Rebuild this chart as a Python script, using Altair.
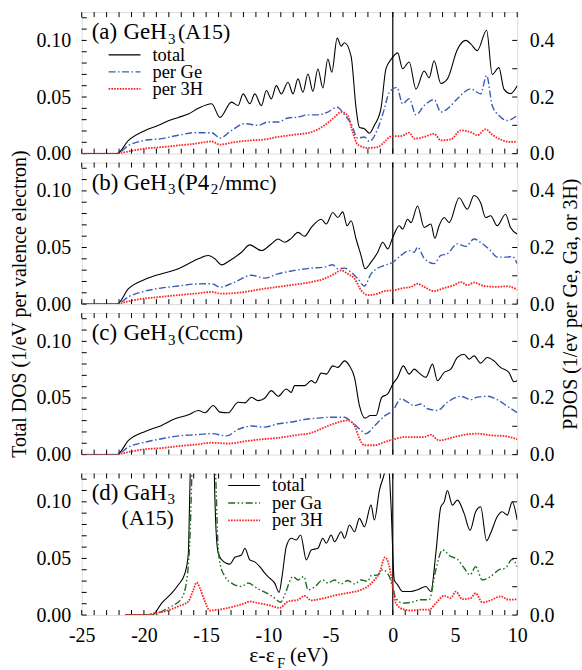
import altair as alt
import pandas as pd

# ---------------- data ----------------
# Panel (a) GeH3 (A15)
a_tot_x = [-25, -22.17, -21.24, -19.90, -18.83, -18.03, -17.23, -16.43, -15.63, -14.56, -13.89, -12.96, -12.43, -12.03, -11.49, -11.09, -10.56, -10.16, -9.76, -9.36, -8.96, -8.42, -8.02, -7.62, -7.22, -6.82, -6.42, -6.02, -5.62, -5.22, -4.90, -4.47, -4.15, -3.88, -3.35, -2.95, -2.68, -2.28, -1.88, -1.48, -0.95, -0.55, -0.15, 0.39, 0.79, 1.32, 1.86, 2.52, 2.92, 3.32, 3.86, 4.39, 5.19, 5.86, 6.26, 6.79, 7.54, 7.99, 8.53, 8.93, 9.46, 10.0]
a_tot_y = [0, 0, 0.0117, 0.0205, 0.025, 0.029, 0.032, 0.035, 0.040, 0.044, 0.032, 0.0455, 0.0425, 0.0528, 0.044, 0.0528, 0.0425, 0.0557, 0.0484, 0.0601, 0.0528, 0.0631, 0.0528, 0.066, 0.0543, 0.0704, 0.055, 0.0748, 0.058, 0.0836, 0.072, 0.102, 0.095, 0.098, 0.086, 0.040, 0.023, 0.022, 0.018, 0.025, 0.040, 0.075, 0.083, 0.089, 0.075, 0.081, 0.057, 0.073, 0.067, 0.082, 0.062, 0.066, 0.092, 0.100, 0.097, 0.091, 0.109, 0.070, 0.076, 0.057, 0.053, 0.060]
a_ge_x = [-25, -22.17, -21.24, -19.90, -18.57, -17.23, -15.90, -14.56, -13.89, -12.96, -11.89, -10.82, -10.02, -9.22, -8.42, -7.62, -6.82, -6.02, -5.22, -4.47, -3.88, -3.35, -2.82, -2.28, -1.88, -1.21, -0.68, -0.28, 0.33, 0.79, 1.32, 1.86, 2.52, 3.32, 3.86, 4.39, 5.19, 6.26, 7.06, 7.54, 7.99, 8.53, 9.20, 10.0]
a_ge_y = [0, 0, 0.029, 0.047, 0.053, 0.065, 0.074, 0.074, 0.055, 0.082, 0.106, 0.100, 0.112, 0.112, 0.126, 0.129, 0.137, 0.137, 0.147, 0.164, 0.137, 0.106, 0.055, 0.059, 0.043, 0.088, 0.158, 0.217, 0.234, 0.176, 0.194, 0.137, 0.170, 0.191, 0.147, 0.158, 0.194, 0.229, 0.211, 0.276, 0.170, 0.135, 0.117, 0.135]
a_h_x = [-25, -22.17, -21.24, -19.90, -18.57, -17.23, -15.90, -14.56, -13.89, -12.69, -11.36, -10.29, -9.22, -7.89, -6.55, -5.49, -4.68, -4.15, -3.62, -3.22, -2.82, -2.02, -1.21, -0.68, -0.15, 0.65, 1.32, 1.72, 2.52, 3.32, 3.86, 4.66, 5.46, 6.26, 6.79, 7.46, 7.99, 8.66, 9.46, 10.0]
a_h_y = [0, 0, 0.008, 0.018, 0.023, 0.029, 0.035, 0.043, 0.032, 0.041, 0.047, 0.050, 0.059, 0.067, 0.076, 0.100, 0.129, 0.147, 0.135, 0.076, 0.032, 0.020, 0.023, 0.041, 0.061, 0.062, 0.074, 0.053, 0.059, 0.070, 0.047, 0.050, 0.082, 0.076, 0.065, 0.086, 0.067, 0.050, 0.041, 0.043]

# Panel (b) GeH3 (P4_2/mmc)
b_tot_x = [-25, -22.17, -21.24, -19.90, -18.57, -17.23, -16.43, -15.63, -14.83, -14.29, -13.76, -13.09, -12.16, -11.49, -10.56, -9.76, -9.22, -8.69, -8.16, -7.62, -7.09, -6.55, -5.75, -5.35, -4.82, -4.42, -4.02, -3.67, -3.35, -2.95, -2.55, -2.23, -1.75, -1.21, -0.81, -0.41, 0.0, 0.52, 0.79, 1.19, 1.46, 1.99, 2.52, 3.06, 3.38, 3.72, 4.13, 4.53, 5.33, 5.99, 6.53, 7.06, 7.46, 7.86, 8.39, 9.06, 9.46, 10.0]
b_tot_y = [0, 0, 0.0137, 0.0219, 0.0269, 0.0312, 0.0356, 0.040, 0.0429, 0.040, 0.0347, 0.0385, 0.0458, 0.0523, 0.0473, 0.0531, 0.0575, 0.0546, 0.0581, 0.0634, 0.0599, 0.0677, 0.075, 0.0707, 0.0809, 0.0765, 0.0815, 0.0692, 0.0736, 0.0575, 0.0429, 0.0312, 0.0371, 0.0458, 0.0546, 0.0488, 0.059, 0.0692, 0.0663, 0.075, 0.072, 0.0867, 0.0677, 0.0707, 0.0581, 0.0692, 0.0765, 0.072, 0.094, 0.0838, 0.096, 0.0896, 0.0765, 0.078, 0.0692, 0.0794, 0.0677, 0.062]
b_ge_x = [-25, -22.17, -21.24, -19.90, -18.57, -17.23, -15.90, -14.56, -13.89, -12.69, -11.36, -10.29, -9.22, -7.89, -6.55, -5.49, -4.82, -4.42, -3.88, -3.35, -2.82, -2.28, -1.75, -1.21, -0.68, 0.0, 0.65, 1.32, 1.72, 1.99, 2.52, 3.32, 3.86, 4.39, 5.19, 5.86, 6.53, 7.06, 7.86, 8.39, 9.20, 9.60, 10.0]
b_ge_y = [0, 0, 0.026, 0.046, 0.057, 0.064, 0.071, 0.072, 0.060, 0.078, 0.102, 0.092, 0.107, 0.119, 0.127, 0.131, 0.139, 0.125, 0.127, 0.113, 0.090, 0.064, 0.107, 0.127, 0.137, 0.148, 0.172, 0.189, 0.183, 0.201, 0.162, 0.143, 0.172, 0.178, 0.213, 0.204, 0.230, 0.218, 0.189, 0.166, 0.166, 0.169, 0.143]
b_h_x = [-25, -22.17, -21.24, -19.90, -18.57, -17.23, -15.90, -14.56, -13.76, -11.89, -10.56, -9.22, -7.89, -6.55, -5.49, -4.68, -4.15, -3.62, -3.08, -2.55, -2.02, -1.21, -0.68, 0.0, 0.92, 1.46, 1.99, 2.52, 3.32, 4.13, 4.93, 5.46, 5.99, 6.53, 7.33, 8.39, 9.20, 10.0]
b_h_y = [0, 0, 0.0105, 0.020, 0.026, 0.032, 0.037, 0.043, 0.037, 0.043, 0.053, 0.061, 0.069, 0.078, 0.090, 0.107, 0.119, 0.107, 0.090, 0.049, 0.032, 0.037, 0.046, 0.049, 0.057, 0.061, 0.072, 0.061, 0.046, 0.057, 0.067, 0.078, 0.067, 0.076, 0.064, 0.061, 0.063, 0.051]

# Panel (c) GeH3 (Cccm)
c_tot_x = [-25, -22.17, -21.24, -19.90, -18.57, -17.50, -16.43, -15.63, -15.10, -14.43, -13.89, -13.23, -12.43, -11.89, -11.36, -10.82, -10.29, -9.76, -9.22, -8.56, -8.16, -7.89, -7.09, -6.55, -6.23, -5.75, -5.35, -4.82, -4.42, -3.88, -3.48, -3.08, -2.68, -2.23, -1.80, -1.35, -0.89, -0.41, 0.0, 0.39, 0.84, 1.32, 1.72, 2.12, 2.66, 3.19, 3.59, 4.13, 4.66, 5.19, 5.73, 6.13, 6.53, 7.06, 7.59, 8.13, 8.66, 9.33, 9.73, 10.0]
c_tot_y = [0, 0, 0.0126, 0.0205, 0.0258, 0.0316, 0.0351, 0.039, 0.0369, 0.0433, 0.0375, 0.0369, 0.0462, 0.0457, 0.0506, 0.0477, 0.0498, 0.0565, 0.0515, 0.058, 0.055, 0.0609, 0.0609, 0.0653, 0.0632, 0.072, 0.0711, 0.0784, 0.077, 0.0828, 0.0784, 0.0682, 0.0433, 0.0322, 0.0345, 0.0345, 0.0506, 0.0536, 0.0623, 0.0682, 0.0784, 0.0711, 0.0755, 0.072, 0.0682, 0.0799, 0.0653, 0.0726, 0.0755, 0.0858, 0.0887, 0.0843, 0.0872, 0.0808, 0.0858, 0.0828, 0.077, 0.0726, 0.0644, 0.0653]
c_ge_x = [-25, -22.17, -21.24, -19.90, -18.57, -17.23, -15.90, -14.56, -13.36, -12.43, -11.36, -10.29, -9.22, -8.16, -7.09, -6.02, -4.95, -3.88, -3.35, -2.68, -2.15, -1.48, -0.68, 0.0, 0.65, 1.19, 1.72, 2.26, 2.79, 3.59, 4.39, 5.46, 6.26, 6.79, 7.59, 8.39, 9.20, 10.0]
c_ge_y = [0, 0, 0.027, 0.044, 0.056, 0.066, 0.070, 0.074, 0.066, 0.089, 0.101, 0.097, 0.109, 0.115, 0.124, 0.129, 0.132, 0.132, 0.117, 0.091, 0.074, 0.101, 0.136, 0.156, 0.197, 0.185, 0.173, 0.179, 0.162, 0.156, 0.185, 0.206, 0.194, 0.203, 0.206, 0.194, 0.171, 0.148]
c_h_x = [-25, -22.17, -21.24, -19.90, -18.57, -17.23, -15.90, -14.56, -13.23, -11.89, -10.56, -9.22, -7.89, -6.55, -5.22, -4.15, -3.62, -3.08, -2.68, -2.28, -1.48, -0.68, 0.0, 0.92, 1.72, 2.52, 3.06, 3.72, 4.66, 5.73, 6.79, 7.86, 8.93, 10.0]
c_h_y = [0, 0, 0.009, 0.019, 0.023, 0.030, 0.035, 0.042, 0.039, 0.047, 0.054, 0.059, 0.068, 0.077, 0.101, 0.117, 0.121, 0.103, 0.056, 0.033, 0.033, 0.044, 0.053, 0.062, 0.062, 0.062, 0.070, 0.050, 0.059, 0.070, 0.074, 0.068, 0.066, 0.054]

# Panel (d) GaH3 (A15)
d_tot_x = [-21.5, -19.34, -18.57, -17.77, -17.23, -16.70, -16.43, -16.35, -16.27, -16.11, -15.30, -14.48, -14.35, -14.24, -14.03, -13.76, -13.09, -12.69, -12.16, -11.89, -11.49, -11.09, -10.69, -10.29, -9.89, -9.49, -9.14, -8.90, -8.56, -8.16, -7.76, -7.41, -6.95, -6.55, -6.02, -5.62, -5.35, -4.95, -4.68, -4.15, -3.88, -3.48, -3.08, -2.68, -2.28, -1.75, -1.48, -1.08, -0.68, -0.41, -0.15, 0.12, 0.39, 0.79, 1.46, 1.99, 2.66, 3.06, 3.46, 3.86, 4.13, 4.39, 4.79, 5.19, 5.73, 6.21, 6.66, 7.06, 7.54, 7.86, 8.39, 8.79, 9.20, 9.60, 10.0]
d_tot_y = [0, 0, 0.0106, 0.0194, 0.0267, 0.037, 0.0546, 0.09, 0.13, 0.25, 0.35, 0.25, 0.13, 0.084, 0.0546, 0.049, 0.045, 0.051, 0.053, 0.059, 0.0487, 0.047, 0.0428, 0.037, 0.0326, 0.0282, 0.020, 0.034, 0.0604, 0.0678, 0.0663, 0.0707, 0.0487, 0.0575, 0.059, 0.0678, 0.0634, 0.0707, 0.0648, 0.0736, 0.0678, 0.0795, 0.0736, 0.0854, 0.078, 0.0971, 0.0839, 0.110, 0.125, 0.140, 0.0986, 0.031, 0.0267, 0.0208, 0.0208, 0.0223, 0.0252, 0.0208, 0.0546, 0.0956, 0.100, 0.110, 0.0971, 0.1015, 0.0898, 0.075, 0.0912, 0.0956, 0.0657, 0.0722, 0.0868, 0.0912, 0.0883, 0.100, 0.0839]
d_ga_x = [-21.5, -19.23, -18.57, -17.77, -16.96, -16.56, -16.30, -16.08, -15.30, -14.43, -14.24, -14.08, -13.89, -13.49, -12.96, -12.16, -11.63, -10.82, -10.02, -9.49, -9.01, -8.69, -8.02, -7.62, -7.14, -6.82, -6.29, -5.62, -5.22, -4.68, -4.15, -3.62, -3.08, -2.55, -2.02, -1.75, -1.21, -0.81, -0.28, 0.0, 0.25, 0.79, 1.46, 2.26, 2.92, 3.46, 3.99, 4.66, 5.19, 5.73, 6.21, 6.66, 7.19, 7.86, 8.53, 9.06, 9.60, 10.0]
d_ga_y = [0, 0, 0.013, 0.031, 0.060, 0.124, 0.277, 0.60, 1.20, 0.60, 0.50, 0.277, 0.183, 0.136, 0.113, 0.101, 0.113, 0.092, 0.075, 0.060, 0.045, 0.072, 0.136, 0.124, 0.136, 0.089, 0.099, 0.124, 0.113, 0.124, 0.110, 0.122, 0.110, 0.124, 0.119, 0.139, 0.142, 0.160, 0.136, 0.095, 0.060, 0.042, 0.045, 0.054, 0.054, 0.160, 0.230, 0.207, 0.197, 0.166, 0.142, 0.171, 0.124, 0.136, 0.160, 0.166, 0.197, 0.171]
d_h_x = [-21.5, -19.90, -19.10, -18.30, -17.23, -16.43, -16.03, -15.76, -15.50, -15.10, -14.70, -14.03, -12.96, -11.89, -11.49, -10.82, -10.02, -9.09, -8.42, -7.62, -7.09, -6.55, -5.49, -4.42, -3.35, -2.55, -2.02, -1.48, -1.08, -0.63, -0.28, 0.0, 0.25, 0.79, 1.46, 2.26, 2.92, 3.46, 4.13, 4.66, 5.06, 5.59, 6.26, 6.66, 7.19, 7.86, 8.66, 9.33, 10.0]
d_h_y = [0, 0, 0.007, 0.013, 0.031, 0.048, 0.089, 0.115, 0.095, 0.048, 0.016, 0.019, 0.028, 0.042, 0.048, 0.042, 0.036, 0.025, 0.048, 0.054, 0.068, 0.052, 0.060, 0.072, 0.080, 0.089, 0.101, 0.124, 0.148, 0.204, 0.171, 0.101, 0.042, 0.021, 0.016, 0.019, 0.019, 0.042, 0.068, 0.060, 0.083, 0.056, 0.060, 0.077, 0.045, 0.052, 0.066, 0.054, 0.056]

# axis ticks and labels
x_tick_vals = list(range(-25, 11))
x_label_vals = [-25, -20, -15, -10, -5, 0, 5, 10]
yl_tick_vals = [0.0, 0.01, 0.02, 0.03, 0.04, 0.05, 0.06, 0.07, 0.08, 0.09, 0.10, 0.11, 0.12]
yl_label_vals = [0.0, 0.05, 0.10]
yr_tick_vals = [0.0, 0.1, 0.2, 0.3, 0.4]
yr_label_vals = [0.0, 0.2, 0.4]

# ---------------- styling ----------------
FONT = "Liberation Serif"
W, H = 437, 142
BLUE = "#3a5bb8"
RED = "#ff2020"
GREEN = "#1f6a1f"
DASH_GE = [7, 2.5, 1.5, 2.5]
DASH_GA = [7, 2.5, 1.5, 2.5, 1.5, 2.5]
DASH_H = [1.6, 1.2]

XS = alt.Scale(domain=[-25, 10], nice=False, zero=False)
YL = alt.Scale(domain=[0, 0.125], nice=False, zero=False)
YR = alt.Scale(domain=[0, 0.5], nice=False, zero=False)


def frame(xv, yv):
    return pd.DataFrame(list(zip(xv, yv)), columns=["e", "d"])


def txt(s, x, y, size=20, align="left", baseline="alphabetic", angle=0):
    return alt.Chart(alt.Data(values=[{}])).mark_text(
        text=s, font=FONT, fontSize=size, align=align, baseline=baseline,
        angle=angle, color="black"
    ).encode(x=alt.value(x), y=alt.value(y))


def seg(x1, x2, y, color, dash=None, width=1.2):
    kw = dict(color=color, strokeWidth=width)
    if dash:
        kw["strokeDash"] = dash
    return alt.Chart(alt.Data(values=[{}])).mark_rule(**kw).encode(
        x=alt.value(x1), x2=alt.value(x2), y=alt.value(y))


def panel(tot, pdos1, pdosh, c1, dash1, annotations, show_x=False):
    if show_x:
        xaxis = alt.Axis(values=x_label_vals, labelExpr="'' + datum.value", ticks=False,
                         domain=False, grid=False, labelFont=FONT, labelFontSize=20,
                         labelPadding=11, labelColor="black", labelFlush=False, title=None)
    else:
        xaxis = None
    ylax = alt.Axis(values=yl_label_vals, format=".2f", ticks=False, domain=False, grid=False,
                    labelFont=FONT, labelFontSize=20, labelPadding=11, labelColor="black",
                    labelFlush=False, title=None)
    yrax = alt.Axis(orient="right", values=yr_label_vals, format=".1f", ticks=False, domain=False,
                    grid=False, labelFont=FONT, labelFontSize=20, labelPadding=12,
                    labelColor="black", labelFlush=False, title=None)
    X = alt.X("e:Q", scale=XS, axis=xaxis)
    YLe = alt.Y("d:Q", scale=YL, axis=ylax)
    YRe = alt.Y("d:Q", scale=YR, axis=yrax)

    left = [
        alt.Chart(frame(*tot)).mark_line(clip=True, color="black", strokeWidth=1.1,
                                         interpolate="monotone").encode(x=X, y=YLe),
        alt.Chart(pd.DataFrame({"e": x_tick_vals})).mark_rule(color="black", strokeWidth=1).encode(
            x=X, y=alt.value(H), y2=alt.value(H - 5)),
        alt.Chart(pd.DataFrame({"e": x_tick_vals})).mark_rule(color="black", strokeWidth=1).encode(
            x=X, y=alt.value(0), y2=alt.value(5)),
        alt.Chart(pd.DataFrame({"d": yl_tick_vals})).mark_rule(color="black", strokeWidth=1).encode(
            y=YLe, x=alt.value(0), x2=alt.value(5)),
        alt.Chart(pd.DataFrame({"e": [0]})).mark_rule(color="black", strokeWidth=1.2).encode(
            x=X, y=alt.value(0), y2=alt.value(H)),
    ] + list(annotations)

    right = [
        alt.Chart(frame(*pdos1)).mark_line(clip=True, color=c1, strokeWidth=1.4, strokeDash=dash1,
                                           interpolate="monotone").encode(x=X, y=YRe),
        alt.Chart(frame(*pdosh)).mark_line(clip=True, color=RED, strokeWidth=1.8, strokeDash=DASH_H,
                                           interpolate="monotone").encode(x=X, y=YRe),
        alt.Chart(pd.DataFrame({"d": yr_tick_vals})).mark_rule(color="black", strokeWidth=1).encode(
            y=YRe, x=alt.value(W), x2=alt.value(W - 5)),
    ]
    return alt.layer(alt.layer(*left), alt.layer(*right)).resolve_scale(y="independent").properties(
        width=W, height=H)


def ge_label(letter, rest_parts):
    parts = [txt("(" + letter + ")", 10, 27, 23), txt("GeH", 42, 27, 23), txt("3", 86.5, 32, 15)]
    return parts + rest_parts


legend_a = [
    seg(27, 59, 43, "black"), txt("total", 71, 43, 18.5, baseline="middle"),
    seg(27, 59, 60, BLUE, DASH_GE, 1.4), txt("per Ge", 71, 60, 18.5, baseline="middle"),
    seg(27, 59, 77, RED, DASH_H, 1.8), txt("per 3H", 71, 77, 18.5, baseline="middle"),
]

ann_a = ge_label("a", [txt("(A15)", 96.5, 27, 22)]) + legend_a
ann_b = ge_label("b", [txt("(P4", 96, 27, 23), txt("2", 129.5, 32, 15), txt("/mmc)", 138, 27, 22)]) + [
    txt("Total DOS (1/eV per valence electron)", -62, 142, 20, align="center", baseline="middle", angle=270),
    txt("PDOS (1/ev per Ge, Ga, or 3H)", 491, 142, 20, align="center", baseline="middle", angle=270),
]
ann_c = ge_label("c", [txt("(Cccm)", 96, 27, 22)])
ann_d = [
    txt("(d)", 10, 27, 23), txt("GaH", 42, 27, 23), txt("3", 86, 31, 15), txt("(A15)", 40, 52, 22),
    seg(147, 179, 12, "black"), txt("total", 191, 12, 18.5, baseline="middle"),
    seg(147, 179, 29.5, GREEN, DASH_GA, 1.6), txt("per Ga", 191, 29.5, 18.5, baseline="middle"),
    seg(147, 179, 47, RED, DASH_H, 1.8), txt("per 3H", 191, 47, 18.5, baseline="middle"),
    txt("ε-ε", 168, 189, 22), txt("F", 196, 195, 15), txt("(eV)", 209, 189, 21),
]

pa = panel((a_tot_x, a_tot_y), (a_ge_x, a_ge_y), (a_h_x, a_h_y), BLUE, DASH_GE, ann_a)
pb = panel((b_tot_x, b_tot_y), (b_ge_x, b_ge_y), (b_h_x, b_h_y), BLUE, DASH_GE, ann_b)
pc = panel((c_tot_x, c_tot_y), (c_ge_x, c_ge_y), (c_h_x, c_h_y), BLUE, DASH_GE, ann_c)
pdd = panel((d_tot_x, d_tot_y), (d_ga_x, d_ga_y), (d_h_x, d_h_y), GREEN, DASH_GA, ann_d, show_x=True)

spacer = alt.Chart(alt.Data(values=[{}])).mark_text(text="").encode(
    x=alt.value(0), y=alt.value(0)).properties(width=W, height=1,
                                                view=alt.ViewBackground(stroke="transparent"))

chart = alt.vconcat(pa, pb, pc, spacer, pdd, spacing=9, bounds="flush").properties(
    padding={"left": 9, "top": 9, "right": 0, "bottom": 0}
).configure_view(stroke="black", strokeWidth=1.2).configure(font=FONT, background="white")

chart.save("out.html", embed_options={"renderer": "svg", "actions": False})
